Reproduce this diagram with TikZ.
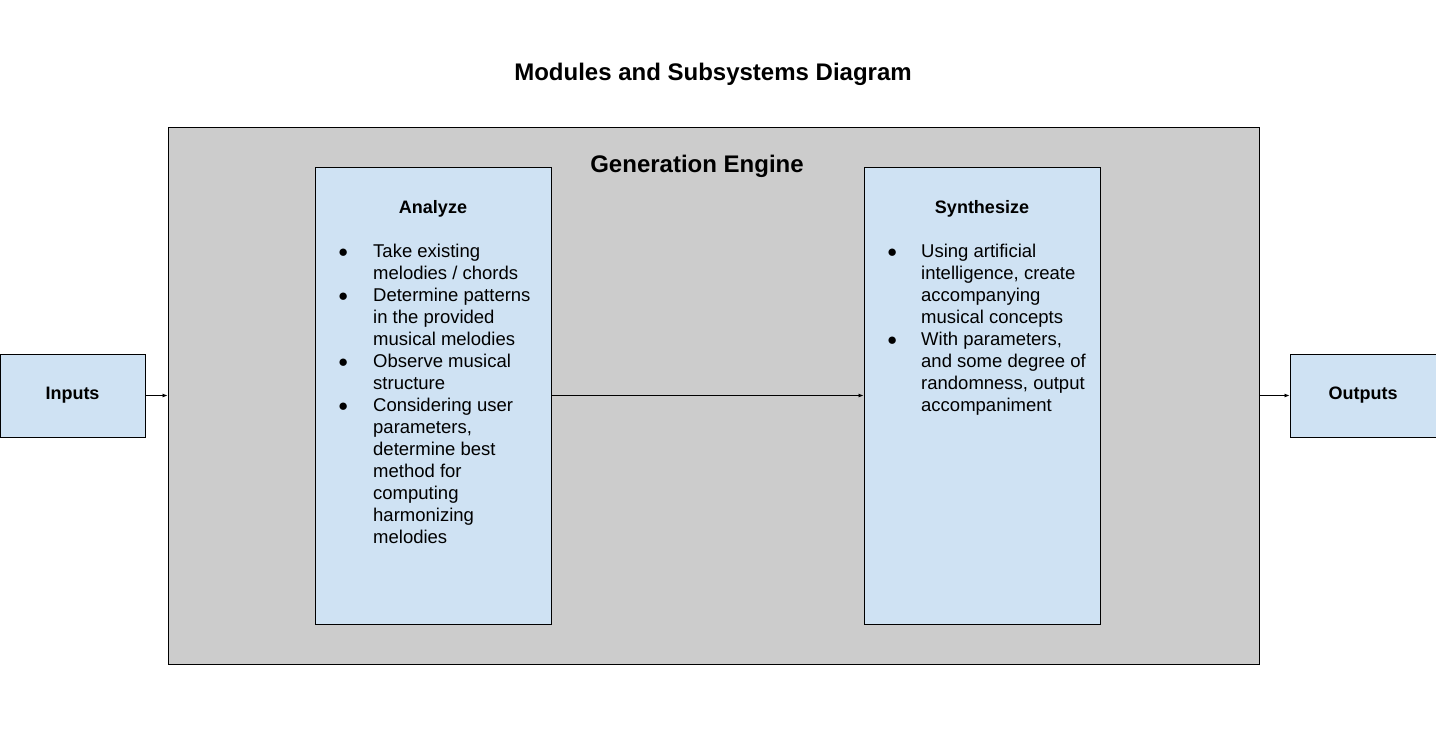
\documentclass[tikz,border=0pt]{standalone}
\usepackage{fontspec}
\setmainfont{Liberation Sans}
\usetikzlibrary{arrows.meta}
\definecolor{enginegray}{HTML}{CCCCCC}
\definecolor{moduleblue}{HTML}{CFE2F3}
\newcommand{\bulletmark}{\makebox[10pt]{\fontsize{17}{17}\selectfont ●}}

\begin{document}
\begin{tikzpicture}[x=1pt, y=-1pt,
    box/.style={draw, line width=0.9pt, fill=moduleblue, inner sep=0pt},
    heading/.style={font=\bfseries\fontsize{18}{22}\selectfont, anchor=base},
    bodytext/.style={font=\fontsize{18.5}{22}\selectfont, anchor=base west, inner sep=0pt},
    flow/.style={-{Latex[length=5pt,width=4pt]}, line width=0.8pt}]
    \useasboundingbox (0,0) rectangle (1436,740);
    \node[font=\bfseries\fontsize{24}{24}\selectfont, anchor=base] (title) at (713,80) {Modules and Subsystems Diagram};
    % engine and its two modules
    \node[draw, line width=0.9pt, fill=enginegray, minimum width=1091pt, minimum height=537pt, inner sep=0pt] (engine) at (713.5,395.5) {};
    \node[font=\bfseries\fontsize{24}{24}\selectfont, anchor=base] (enginelabel) at (697,172) {Generation Engine};
    \node[box, minimum width=236pt, minimum height=457pt] (analyze) at (433,395.5) {};
    \node[box, minimum width=236pt, minimum height=457pt] (synthesize) at (982,395.5) {};
    \node[heading] (analyzelabel) at (433,213) {Analyze};
    \node[heading] (synthesizelabel) at (982,213) {Synthesize};
    \node[bodytext] (analyzetext) at (338,257) {%
        \begin{tabular}[t]{@{}l@{\hspace{25pt}}l@{}}
            \bulletmark & Take existing\\
                        & melodies / chords\\
            \bulletmark & Determine patterns\\
                        & in the provided\\
                        & musical melodies\\
            \bulletmark & Observe musical\\
                        & structure\\
            \bulletmark & Considering user\\
                        & parameters,\\
                        & determine best\\
                        & method for\\
                        & computing\\
                        & harmonizing\\
                        & melodies
        \end{tabular}};
    \node[bodytext] (synthesizetext) at (887,257) {%
        \begin{tabular}[t]{@{}l@{\hspace{24pt}}l@{}}
            \bulletmark & Using artificial\\
                        & intelligence, create\\
                        & accompanying\\
                        & musical concepts\\
            \bulletmark & With parameters,\\
                        & and some degree of\\
                        & randomness, output\\
                        & accompaniment
        \end{tabular}};
    % inputs and outputs
    \node[box, font=\bfseries\fontsize{18}{22}\selectfont, minimum width=145pt, minimum height=83pt] (inputs) at (72.5,395.5) {Inputs};
    \node[box, font=\bfseries\fontsize{18}{22}\selectfont, minimum width=146pt, minimum height=83pt] (outputs) at (1363,395.5) {Outputs};
    \draw[flow] (inputs) -- (engine);
    \draw[flow] (analyze) -- (synthesize);
    \draw[flow] (engine) -- (outputs);
\end{tikzpicture}
\end{document}
